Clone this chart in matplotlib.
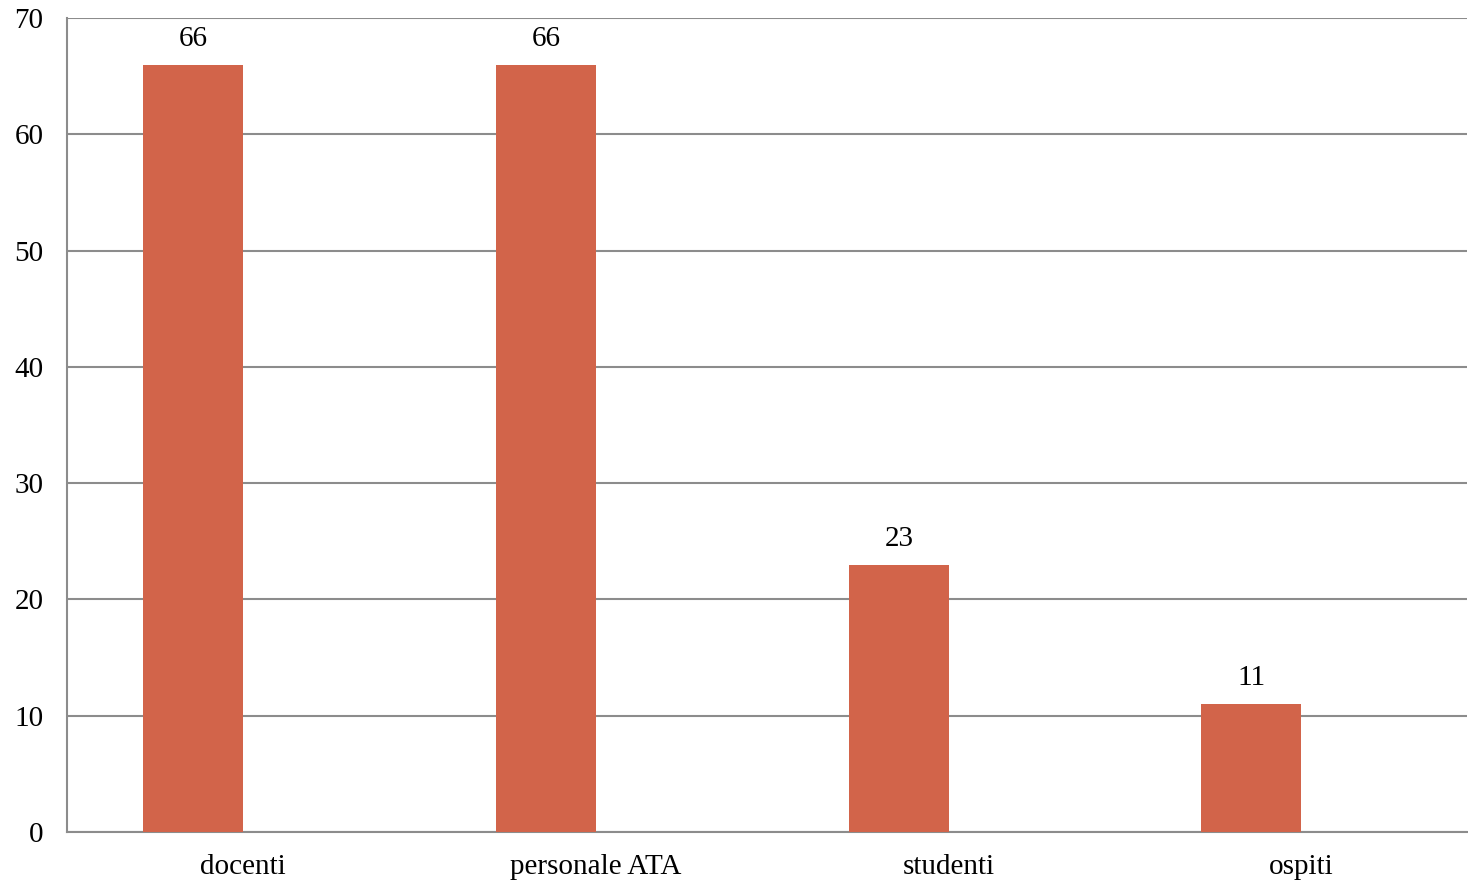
import numpy as np
import matplotlib as mpl
mpl.use("Agg")
import matplotlib.pyplot as plt

mpl.rcParams['font.family'] = ['Liberation Serif', 'DejaVu Serif']

# data
categories = ['docenti', 'personale ATA', 'studenti', 'ospiti']
values = [66, 66, 23, 11]
yticks = [0, 10, 20, 30, 40, 50, 60, 70]

bar_color = '#D2644A'
grid_color = '#8C8C8C'

fig = plt.figure(figsize=(14.68, 8.8), dpi=100)
ax = fig.add_axes([67/1468, 48/880, 1400/1468, 814/880])

x = np.arange(len(categories))
w = 0.2835
# bars sit left of the category centre (second series slot is empty)
bars = ax.bar(x - w/2, values, width=w, color=bar_color, zorder=3)

for xi, v in zip(x, values):
    ax.text(xi - w/2, v + 1.1, str(v), ha='center', va='bottom', fontsize=21)

ax.set_xlim(-0.5, -0.5 + 1400/352.7)
ax.set_ylim(0, 70)
ax.set_yticks(yticks)
ax.set_xticks(x)
ax.set_xticklabels(categories, fontsize=21)
ax.set_yticklabels([str(t) for t in yticks], fontsize=21)

ax.yaxis.grid(True, color=grid_color, linewidth=1.5, zorder=0)
ax.set_axisbelow(True)
ax.tick_params(axis='both', length=0)
ax.tick_params(axis='y', pad=17)
ax.tick_params(axis='x', pad=16)

ax.spines['right'].set_visible(False)
ax.spines['top'].set_visible(False)
ax.spines['left'].set_color(grid_color)
ax.spines['bottom'].set_color(grid_color)
ax.spines['left'].set_linewidth(1.5)
ax.spines['bottom'].set_linewidth(1.5)

fig.savefig('out.png', dpi=100)
